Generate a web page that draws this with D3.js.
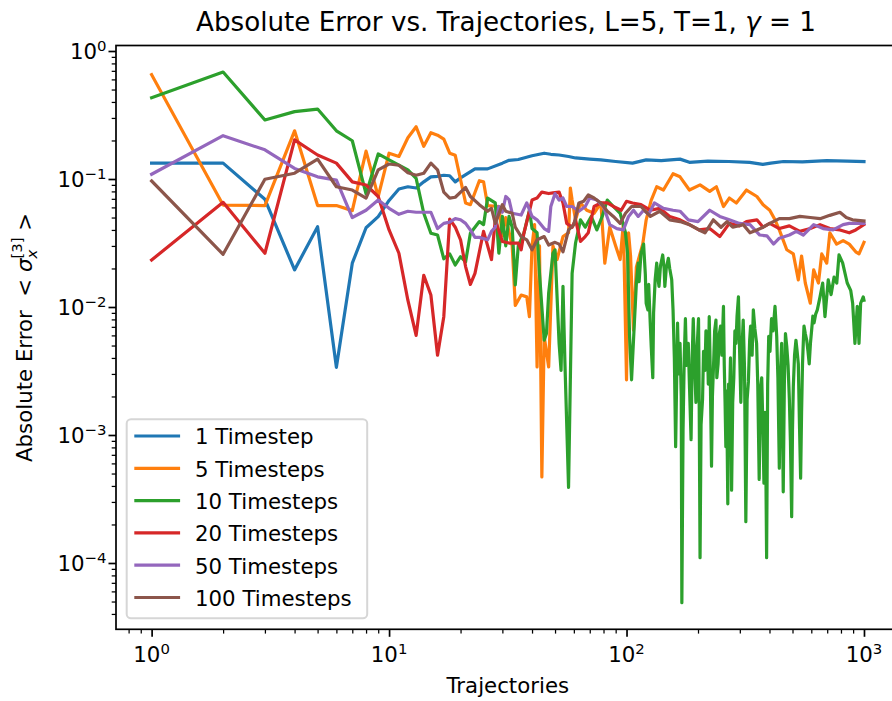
<!DOCTYPE html>
<html>
<head>
<meta charset="utf-8">
<script src="https://cdn.jsdelivr.net/npm/d3@7"></script>
<style>
  body { margin: 0; background: #fff; }
  svg { display: block; }
  text { font-family: "DejaVu Sans", sans-serif; fill: #000; white-space: pre; }
</style>
</head>
<body>
<svg id="chart" width="892" height="701"></svg>
<script>
// Absolute error of <sigma_x^[3]> against number of trajectories, one series per timestep count.
// Each point: [trajectories, absolute error]
const steps1 = [[1,0.133],[2,0.133],[3,0.0694],[4,0.0195],[5,0.0424],[6,0.00338],[7,0.022],[8,0.0416],[9,0.0508],[10,0.068],[11,0.0836],[12,0.087],[13,0.085],[14,0.095],[15,0.104],[16,0.105],[17,0.107],[18,0.106],[19,0.095],[20,0.102],[23,0.12],[26,0.12],[30,0.133],[32,0.14],[35,0.142],[40,0.152],[45,0.159],[48,0.156],[52,0.154],[57,0.150],[61,0.146],[70,0.143],[78,0.141],[90,0.137],[106,0.133],[121,0.141],[140,0.139],[168,0.143],[184,0.135],[220,0.138],[270,0.137],[330,0.135],[375,0.130],[405,0.133],[458,0.137],[550,0.136],[697,0.139],[850,0.138],[1000,0.137]];

const steps5 = [[1,0.653],[2,0.0626],[3,0.062],[4,0.238],[5,0.062],[6,0.062],[7,0.0566],[8,0.165],[9,0.0727],[10,0.159],[11,0.15],[12,0.21],[13,0.256],[14,0.18],[15,0.23],[16,0.22],[17,0.205],[18,0.159],[19,0.153],[21,0.065],[22,0.063],[24,0.097],[25,0.095],[26,0.062],[29,0.061],[30,0.036],[31,0.05],[33,0.03],[34,0.0103],[36,0.0124],[38,0.012],[39,0.0084],[40,0.03],[41,0.044],[42,0.0034],[43,0.03],[44,0.00047],[45,0.0059],[47,0.0034],[49,0.03],[51,0.0235],[54,0.0355],[57,0.038],[58,0.085],[59,0.0685],[61,0.048],[64,0.065],[68,0.057],[73,0.054],[78,0.065],[81,0.022],[85,0.042],[90,0.03],[94,0.0235],[97,0.045],[100,0.0027],[102,0.038],[104,0.025],[107,0.0066],[110,0.0205],[117,0.031],[121,0.048],[127,0.068],[134,0.087],[143,0.082],[157,0.11],[168,0.104],[184,0.082],[204,0.09],[224,0.08],[239,0.087],[256,0.061],[271,0.071],[290,0.065],[320,0.082],[354,0.073],[376,0.063],[401,0.057],[422,0.048],[440,0.04],[473,0.028],[504,0.026],[529,0.0163],[546,0.025],[566,0.0154],[594,0.0107],[614,0.0195],[643,0.0154],[664,0.026],[697,0.022],[718,0.038],[767,0.031],[817,0.033],[867,0.031],[923,0.027],[953,0.026],[1000,0.032]];

const steps10 = [[1,0.432],[2,0.685],[3,0.289],[4,0.336],[5,0.352],[6,0.238],[7,0.199],[8,0.0764],[9,0.157],[10,0.141],[12,0.118],[13,0.101],[14,0.054],[15,0.0377],[16,0.0365],[17,0.0238],[18,0.026],[19,0.0213],[20,0.0247],[21,0.0225],[22,0.0377],[24,0.0465],[25,0.044],[26,0.071],[28,0.065],[29,0.0263],[30,0.051],[31,0.03],[32,0.051],[33,0.042],[34,0.0149],[35,0.03],[37,0.038],[39,0.057],[40,0.041],[42,0.038],[43,0.0183],[45,0.0055],[46,0.0062],[47,0.0128],[49,0.0263],[50,0.0279],[52,0.0052],[53,0.0032],[54,0.0145],[55,0.0038],[57,0.00039],[59,0.0183],[61,0.0316],[64,0.048],[67,0.042],[71,0.051],[75,0.04],[79,0.051],[83,0.0685],[88,0.061],[94,0.054],[99,0.038],[101,0.0263],[103,0.0059],[105,0.0027],[107,0.0055],[110,0.0153],[112,0.022],[113,0.0158],[115,0.026],[118,0.031],[120,0.018],[121,0.0107],[123,0.0095],[124,0.015],[126,0.0071],[127,0.005],[129,0.0028],[130,0.009],[132,0.0163],[134,0.022],[135,0.018],[137,0.0145],[139,0.021],[142,0.0255],[144,0.02],[145,0.0145],[147,0.02],[150,0.024],[152,0.02],[155,0.0163],[157,0.0095],[159,0.004],[161,0.00081],[164,0.0075],[166,0.003],[168,0.0052],[170,0.002],[171,0.000049],[173,0.0011],[175,0.004],[177,0.0081],[179,0.0035],[182,0.0052],[184,0.0025],[187,0.00092],[189,0.004],[191,0.0081],[193,0.0042],[196,0.0018],[198,0.0045],[201,0.0081],[202,0.003],[204,0.00011],[206,0.0012],[209,0.0019],[211,0.0045],[214,0.0032],[216,0.0065],[219,0.0052],[221,0.0025],[223,0.0084],[225,0.0035],[228,0.00057],[230,0.002],[233,0.0039],[235,0.0065],[238,0.0079],[240,0.0028],[243,0.0036],[246,0.0062],[249,0.0071],[252,0.0042],[256,0.0101],[258,0.0035],[260,0.0018],[262,0.00081],[264,0.0022],[267,0.00029],[269,0.0025],[271,0.0016],[274,0.004],[277,0.00037],[280,0.0018],[283,0.0028],[286,0.0065],[289,0.0052],[292,0.0085],[296,0.012],[299,0.005],[303,0.0018],[306,0.0045],[310,0.0079],[314,0.0033],[318,0.00021],[322,0.0019],[326,0.0026],[330,0.0055],[333,0.0071],[338,0.0042],[342,0.0095],[347,0.0068],[353,0.0052],[357,0.0025],[362,0.00045],[366,0.0022],[371,0.0028],[375,0.0012],[379,0.00042],[383,0.0015],[386,0.0006],[389,0.00011],[393,0.0025],[397,0.0059],[402,0.0045],[408,0.0081],[414,0.0065],[422,0.0101],[426,0.0075],[429,0.0059],[434,0.0028],[440,0.00055],[445,0.003],[450,0.0052],[453,0.0018],[457,0.00036],[462,0.0025],[467,0.0062],[473,0.0049],[479,0.0035],[485,0.0019],[490,0.0009],[496,0.00023],[500,0.0011],[504,0.0024],[510,0.0042],[517,0.0055],[523,0.0045],[529,0.0036],[535,0.0012],[541,0.00046],[546,0.0015],[551,0.0036],[555,0.0052],[559,0.0071],[566,0.0062],[574,0.0055],[581,0.0045],[588,0.0036],[595,0.0052],[602,0.0066],[609,0.0085],[616,0.0075],[626,0.0088],[636,0.0095],[653,0.012],[670,0.0154],[685,0.0084],[707,0.0163],[727,0.0125],[748,0.0171],[768,0.0154],[785,0.0255],[813,0.0221],[850,0.0154],[879,0.0135],[896,0.0107],[916,0.0052],[937,0.0101],[953,0.0052],[968,0.0107],[993,0.012],[1000,0.0113]];

const steps20 = [[1,0.0233],[2,0.0657],[3,0.0263],[4,0.202],[5,0.154],[6,0.133],[7,0.095],[8,0.0898],[9,0.073],[10,0.04],[11,0.0263],[12,0.0113],[13,0.006],[14,0.0177],[15,0.0124],[16,0.0042],[17,0.0084],[18,0.0486],[19,0.042],[20,0.0335],[21,0.0207],[22,0.015],[23,0.0183],[25,0.039],[27,0.0235],[28,0.048],[30,0.0325],[32,0.0316],[35,0.0316],[36,0.028],[37,0.038],[39,0.056],[40,0.0685],[42,0.071],[44,0.079],[47,0.077],[49,0.078],[52,0.079],[54,0.065],[56,0.045],[59,0.042],[61,0.048],[64,0.0325],[67,0.0355],[69,0.038],[73,0.061],[78,0.065],[83,0.065],[88,0.061],[95,0.057],[100,0.067],[106,0.065],[115,0.063],[126,0.057],[138,0.059],[152,0.051],[168,0.048],[184,0.044],[202,0.04],[224,0.041],[247,0.0355],[271,0.045],[299,0.043],[320,0.0465],[354,0.048],[376,0.042],[401,0.045],[440,0.041],[485,0.043],[537,0.039],[594,0.041],[653,0.044],[718,0.041],[792,0.04],[867,0.038],[923,0.04],[1000,0.044]];

const steps50 = [[1,0.109],[2,0.218],[3,0.169],[4,0.121],[5,0.104],[6,0.098],[7,0.05],[8,0.057],[9,0.0685],[10,0.059],[11,0.053],[12,0.056],[13,0.055],[14,0.055],[15,0.055],[16,0.041],[17,0.045],[18,0.046],[19,0.049],[20,0.048],[21,0.045],[22,0.04],[23,0.035],[24,0.035],[26,0.0335],[27,0.039],[28,0.042],[29,0.061],[30,0.055],[31,0.073],[32,0.069],[33,0.054],[36,0.0523],[38,0.065],[40,0.051],[42,0.048],[45,0.041],[47,0.039],[48,0.061],[50,0.077],[52,0.0685],[54,0.071],[56,0.061],[59,0.061],[63,0.056],[67,0.061],[70,0.071],[75,0.0685],[80,0.061],[85,0.044],[91,0.041],[97,0.04],[102,0.051],[107,0.057],[112,0.051],[118,0.057],[124,0.053],[131,0.065],[143,0.059],[157,0.057],[168,0.056],[182,0.048],[200,0.0465],[224,0.057],[247,0.051],[271,0.048],[299,0.045],[331,0.044],[364,0.0365],[390,0.036],[416,0.031],[440,0.0345],[485,0.0365],[519,0.039],[555,0.0365],[614,0.044],[673,0.041],[741,0.04],[817,0.044],[867,0.045],[1000,0.045]];

const steps100 = [[1,0.0965],[2,0.0258],[3,0.0995],[4,0.111],[5,0.143],[6,0.087],[7,0.082],[8,0.071],[9,0.118],[10,0.131],[11,0.128],[12,0.112],[13,0.107],[14,0.111],[15,0.133],[16,0.118],[17,0.079],[18,0.071],[19,0.072],[21,0.086],[22,0.073],[24,0.063],[26,0.056],[27,0.059],[28,0.045],[30,0.063],[31,0.056],[33,0.054],[34,0.042],[36,0.0355],[38,0.0335],[40,0.028],[42,0.0335],[45,0.0355],[47,0.0305],[50,0.032],[52,0.031],[54,0.027],[57,0.04],[60,0.044],[63,0.065],[66,0.067],[69,0.075],[73,0.071],[78,0.065],[83,0.056],[88,0.051],[94,0.045],[99,0.054],[105,0.061],[115,0.061],[126,0.051],[138,0.056],[152,0.048],[168,0.0465],[184,0.044],[202,0.04],[214,0.038],[232,0.048],[250,0.042],[265,0.0465],[280,0.042],[310,0.044],[331,0.038],[354,0.04],[376,0.042],[401,0.045],[440,0.049],[485,0.049],[537,0.051],[594,0.05],[653,0.049],[718,0.052],[792,0.055],[842,0.05],[895,0.048],[1000,0.047]];

const seriesLabels = ["1 Timestep", "5 Timesteps", "10 Timesteps", "20 Timesteps", "50 Timesteps", "100 Timesteps"];
const seriesColors = ["#1f77b4", "#ff7f0e", "#2ca02c", "#d62728", "#9467bd", "#8c564b"];
const seriesData = [steps1, steps5, steps10, steps20, steps50, steps100];

const xMajorTicks = [1, 10, 100, 1000];
const xTickExponents = ["0", "1", "2", "3"];
const yMajorTicks = [1e-4, 1e-3, 1e-2, 1e-1, 1];
const yTickExponents = ["\u22124", "\u22123", "\u22122", "\u22121", "0"];

const titleText = "Absolute Error vs. Trajectories, L=5, T=1, ";
const xLabelText = "Trajectories";

// ---- layout ----
const svg = d3.select("#chart");
const X0 = 116, X1 = 899.6, Y0 = 45.5, Y1 = 629.3;
const baseFont = 21.3, supFont = 14.9;

const x = d3.scaleLog().domain([10 ** -0.15, 10 ** 3.15]).range([X0, X1]);
const y = d3.scaleLog().domain([10 ** -4.518, 10 ** 0.043]).range([Y1, Y0]);

svg.append("rect").attr("width", 892).attr("height", 701).attr("fill", "#fff");

svg.append("defs").append("clipPath").attr("id", "plotClip")
  .append("rect").attr("x", X0).attr("y", Y0).attr("width", X1 - X0).attr("height", Y1 - Y0);

// ---- data lines ----
const line = d3.line().x(d => x(d[0])).y(d => y(d[1]));
const linesG = svg.append("g").attr("clip-path", "url(#plotClip)");
seriesData.forEach((pts, i) => {
  linesG.append("path")
    .attr("d", line(pts))
    .attr("fill", "none")
    .attr("stroke", seriesColors[i])
    .attr("stroke-width", 3.2)
    .attr("stroke-linejoin", "round")
    .attr("stroke-linecap", "square");
});

// ---- axes ----
function minorTicks(scale) {
  const [a, b] = scale.domain();
  const out = [];
  for (let k = Math.floor(Math.log10(a)); k <= Math.ceil(Math.log10(b)); k++) {
    for (let m = 2; m <= 9; m++) {
      const v = m * 10 ** k;
      if (v >= a && v <= b) out.push(v);
    }
  }
  return out;
}

function styleAxis(g, w) {
  g.select(".domain").remove();
  g.selectAll(".tick line").attr("stroke", "#000").attr("stroke-width", w);
  g.selectAll(".tick text").remove();
}

svg.append("g").attr("transform", `translate(0,${Y1})`)
  .call(d3.axisBottom(x).tickValues(xMajorTicks).tickSize(7.5).tickFormat(""))
  .call(g => styleAxis(g, 1.7));
svg.append("g").attr("transform", `translate(0,${Y1})`)
  .call(d3.axisBottom(x).tickValues(minorTicks(x)).tickSize(4.3).tickFormat(""))
  .call(g => styleAxis(g, 1.25));
svg.append("g").attr("transform", `translate(${X0},0)`)
  .call(d3.axisLeft(y).tickValues(yMajorTicks).tickSize(7.5).tickFormat(""))
  .call(g => styleAxis(g, 1.7));
svg.append("g").attr("transform", `translate(${X0},0)`)
  .call(d3.axisLeft(y).tickValues(minorTicks(y)).tickSize(4.3).tickFormat(""))
  .call(g => styleAxis(g, 1.25));

// frame
svg.append("rect")
  .attr("x", X0).attr("y", Y0).attr("width", X1 - X0).attr("height", Y1 - Y0)
  .attr("fill", "none").attr("stroke", "#000").attr("stroke-width", 1.7);

// tick labels as powers of ten
xMajorTicks.forEach((v, i) => {
  const t = svg.append("text")
    .attr("x", x(v)).attr("y", 662.3)
    .attr("text-anchor", "middle").attr("font-size", baseFont);
  t.append("tspan").text("10");
  t.append("tspan").attr("font-size", supFont).attr("dy", -8.3).text(xTickExponents[i]);
});
yMajorTicks.forEach((v, i) => {
  const t = svg.append("text")
    .attr("x", 106.5).attr("y", y(v) + 8.3)
    .attr("text-anchor", "end").attr("font-size", baseFont);
  t.append("tspan").text("10");
  t.append("tspan").attr("font-size", supFont).attr("dy", -8.3).text(yTickExponents[i]);
});

// ---- titles ----
const title = svg.append("text")
  .attr("x", 506).attr("y", 30.7)
  .attr("text-anchor", "middle").attr("font-size", 26.2);
title.append("tspan").text(titleText);
title.append("tspan").attr("font-style", "italic").text("\u03b3");
title.append("tspan").text(" = 1");

svg.append("text")
  .attr("x", (X0 + X1) / 2).attr("y", 693)
  .attr("text-anchor", "middle").attr("font-size", baseFont)
  .text(xLabelText);

const yl = svg.append("text")
  .attr("transform", `translate(32,${(Y0 + Y1) / 2}) rotate(-90)`)
  .attr("font-size", baseFont);
yl.append("tspan").text("Absolute Error  < ");
yl.append("tspan").attr("font-style", "italic").text("\u03c3");
const subX = yl.append("tspan").attr("font-style", "italic").attr("font-size", supFont).attr("dy", 4.5).text("x");
const subW = subX.node().getComputedTextLength();
yl.append("tspan").attr("font-size", supFont).attr("dx", -subW).attr("dy", -15).text("[3]");
yl.append("tspan").attr("dy", 10.5).text(" >");
const ylBox = yl.node().getBBox();
yl.attr("x", -(ylBox.x + ylBox.width / 2));

// ---- legend ----
const legend = svg.append("g");
legend.append("rect")
  .attr("x", 126.7).attr("y", 419.3).attr("width", 240.5).attr("height", 199)
  .attr("rx", 4.3).attr("ry", 4.3)
  .attr("fill", "#fff").attr("fill-opacity", 0.8)
  .attr("stroke", "#cccccc").attr("stroke-opacity", 0.8).attr("stroke-width", 2);
seriesLabels.forEach((lab, i) => {
  const cy = 436 + i * 32.3;
  legend.append("line")
    .attr("x1", 135.9).attr("x2", 178.5).attr("y1", cy).attr("y2", cy)
    .attr("stroke", seriesColors[i]).attr("stroke-width", 3.2).attr("stroke-linecap", "square");
  legend.append("text")
    .attr("x", 195).attr("y", cy + 8.3).attr("font-size", baseFont)
    .text(lab);
});
</script>
</body>
</html>
